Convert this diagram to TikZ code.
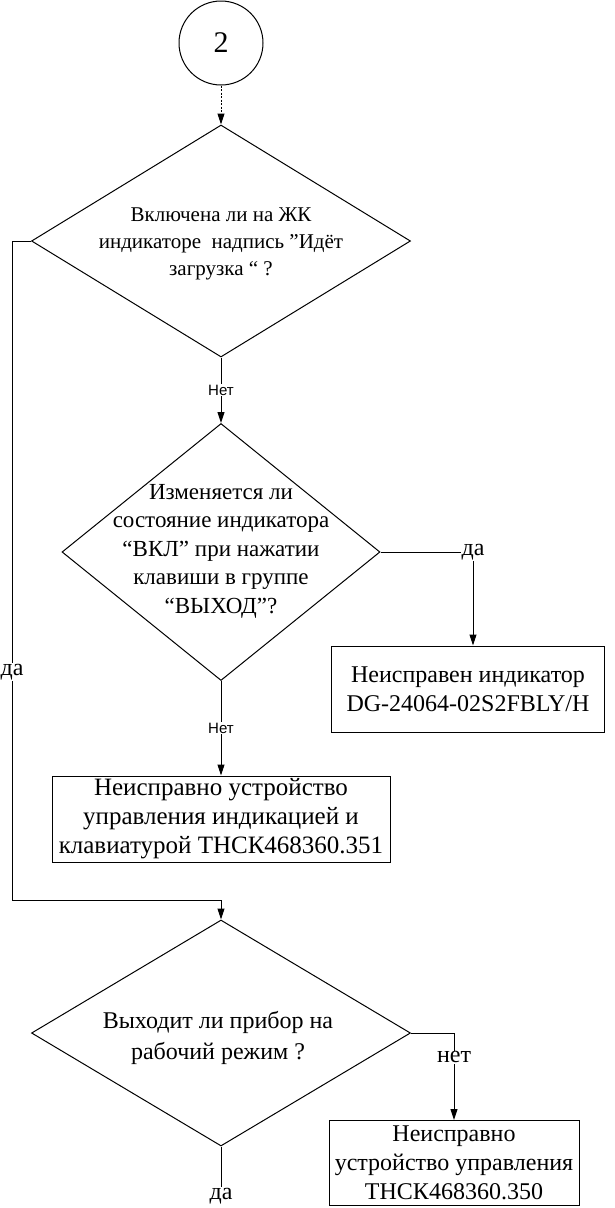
\documentclass[tikz,border=0pt]{standalone}
\usepackage{fontspec}
\setmainfont{Liberation Serif}
\newfontfamily\labelfont{Liberation Sans}
\usetikzlibrary{shapes.geometric,arrows.meta}

\tikzset{
  decision/.style={diamond, draw, line width=1pt, inner sep=0pt},
  qtext/.style={align=center, font=\fontsize{23}{28.5}\selectfont},
  fault/.style={rectangle, draw, line width=1pt, inner sep=0pt, align=center,
    font=\fontsize{24}{29}\selectfont},
  flow/.style={draw, line width=1pt, -{Triangle[length=11pt,width=7pt]}},
  plain/.style={draw, line width=1pt},
  nolabel/.style={fill=white, inner sep=1pt, font=\labelfont\fontsize{15}{17}\selectfont},
  yeslabel/.style={fill=white, inner sep=1pt, font=\fontsize{24}{28}\selectfont},
}

\begin{document}
\begin{tikzpicture}[x=1pt, y=-1pt]
  \useasboundingbox (0,0) rectangle (615,1208);

  % Connector from the previous page
  \node[circle, draw, line width=1pt, minimum size=84pt, inner sep=0pt,
    font=\fontsize{30}{30}\selectfont] (start) at (221,43) {2};

  % Questions
  \node[decision, minimum width=379pt, minimum height=232pt] (q1) at (221,241) {};
  \node[qtext, font=\fontsize{21}{27}\selectfont] (q1txt) at (221,244)
    {Включена ли на ЖК\\индикаторе\ \ надпись ”Идёт\\загрузка “ ?};

  \node[decision, minimum width=318pt, minimum height=257pt] (q2) at (221,552) {};
  \node[qtext] (q2txt) at (221,551)
    {Изменяется ли\\состояние индикатора\\“ВКЛ” при нажатии\\клавиши в группе\\“ВЫХОД”?};

  \node[decision, minimum width=379pt, minimum height=226pt] (q3) at (221,1033) {};
  \node[qtext, font=\fontsize{24}{31}\selectfont] (q3txt) at (218,1038)
    {Выходит ли прибор на\\рабочий режим ?};

  % Faults
  \node[fault, minimum width=273pt, minimum height=86pt] (b1) at (468,689)
    {Неисправен индикатор\\DG-24064-02S2FBLY/H};
  \node[fault, font=\fontsize{25}{29}\selectfont, minimum width=338pt, minimum height=86pt]
    (b2) at (221,819) {Неисправно устройство\\управления индикацией и\\клавиатурой ТНСК468360.351};
  \node[fault, minimum width=250pt, minimum height=85pt] (b3) at (454,1163)
    {Неисправно\\устройство управления\\ТНСК468360.350};

  % Bends
  \coordinate (yes2) at (473,552);
  \coordinate (left1) at (12,241);
  \coordinate (join3) at (221,900);

  % Flow lines
  \draw[flow, dash pattern=on 2pt off 1.5pt] (start.south) -- (q1.north);
  \draw[flow] (q1.south) -- node[nolabel] (no1) {Нет} (q2.north);
  \draw[flow] (q2.south) -- node[nolabel] (no2) {Нет} (b2.north);
  \draw[flow] (q2.east) -- (yes2) -- (yes2 |- b1.north);
  \draw[flow] (q1.west) -- (left1) |- (join3) -- (q3.north);
  \draw[flow] (q3.east) -| node[yeslabel, pos=0.64] (no3) {нет} (b3.north);

  \node[yeslabel] (yes2lbl) at (yes2) {да};
  \node[yeslabel] (yes1lbl) at (12,672) {да};
  \node[yeslabel] (yes3lbl) at (221,1196) {да};
  \draw[plain] (q3.south) -- (yes3lbl);
\end{tikzpicture}
\end{document}
